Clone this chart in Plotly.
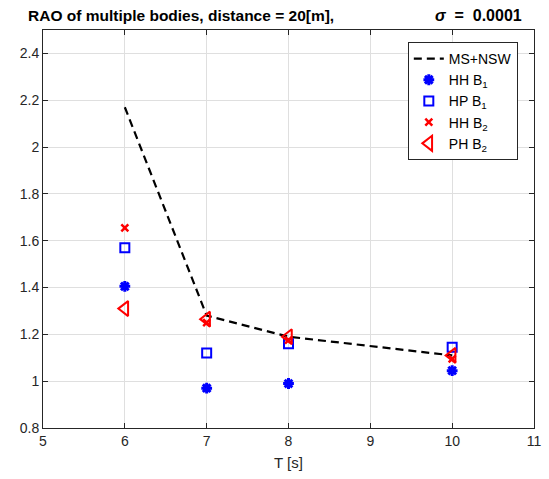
import plotly.graph_objects as go

T_line = [6, 7, 8, 10]
ms_nsw = [2.17, 1.28, 1.19, 1.11]
T_pts = [6, 7, 8, 10]
hh_b1 = [1.405, 0.97, 0.99, 1.045]
hp_b1 = [1.57, 1.12, 1.16, 1.145]
hh_b2 = [1.655, 1.25, 1.175, 1.095]
ph_b2 = [1.31, 1.265, 1.19, 1.11]

fig = go.Figure()
fig.add_trace(go.Scatter(x=T_line, y=ms_nsw, mode="lines", name="MS+NSW",
                         line=dict(color="black", width=2.2, dash="8px,5px")))
fig.add_trace(go.Scatter(x=T_pts, y=hh_b1, mode="markers", name="HH B<sub>1</sub>",
                         marker=dict(symbol="asterisk-open", size=9, color="blue",
                                     line=dict(color="blue", width=3))))
fig.add_trace(go.Scatter(x=T_pts, y=hp_b1, mode="markers", name="HP B<sub>1</sub>",
                         marker=dict(symbol="square-open", size=9, color="blue",
                                     line=dict(color="blue", width=2))))
fig.add_trace(go.Scatter(x=T_pts, y=hh_b2, mode="markers", name="HH B<sub>2</sub>",
                         marker=dict(symbol="x-thin-open", size=7, color="red",
                                     line=dict(color="red", width=2.5))))
fig.add_trace(go.Scatter(x=T_pts, y=ph_b2, mode="markers", name="PH B<sub>2</sub>",
                         marker=dict(symbol="triangle-left-open", size=13, color="red",
                                     line=dict(color="red", width=2))))

axis_common = dict(showline=True, linecolor="#262626", linewidth=1, mirror="ticks",
                   ticks="inside", ticklen=5, tickcolor="#262626",
                   showgrid=True, gridcolor="#dfdfdf", gridwidth=1, zeroline=False,
                   tickfont=dict(family="Liberation Sans, Arial", size=14, color="#262626"))

fig.update_layout(
    width=549, height=479,
    margin=dict(l=43, r=8, t=30, b=51),
    paper_bgcolor="white", plot_bgcolor="white",
    font=dict(family="Liberation Sans, Arial", color="#262626"),
    xaxis=dict(range=[5, 11], dtick=1, title=dict(text="T [s]", font=dict(size=15), standoff=9),
               **axis_common),
    yaxis=dict(range=[0.8, 2.5], tickvals=[0.8, 1, 1.2, 1.4, 1.6, 1.8, 2, 2.2, 2.4],
               ticktext=["0.8", "1", "1.2", "1.4", "1.6", "1.8", "2", "2.2", "2.4"],
               **axis_common),
    legend=dict(x=0.743, y=0.97, xanchor="left", yanchor="top",
                bgcolor="white", bordercolor="#262626", borderwidth=1,
                font=dict(size=14, color="black"), tracegroupgap=0,
                itemwidth=30),
    showlegend=True,
)
fig.add_annotation(text="<b>RAO of multiple bodies, distance = 20[m],</b>",
                   xref="paper", yref="paper", x=-0.035, y=1.0, yshift=4,
                   xanchor="left", yanchor="bottom", showarrow=False,
                   font=dict(size=15.5, color="black"))
fig.add_annotation(text="<b><i>σ</i>  =  0.0001</b>",
                   xref="paper", yref="paper", x=0.98, y=1.0, yshift=4,
                   xanchor="right", yanchor="bottom", showarrow=False,
                   font=dict(size=16, color="black"))
fig.write_html("out.html")
